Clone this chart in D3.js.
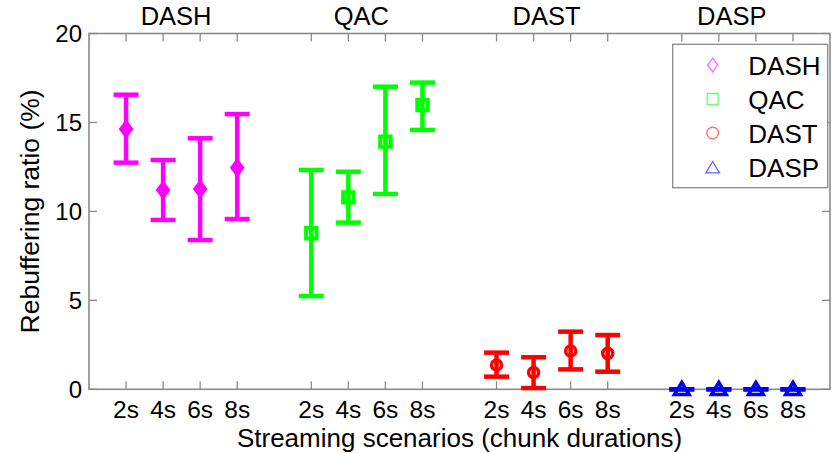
<!DOCTYPE html>
<html><head><meta charset="utf-8">
<script src="https://cdn.jsdelivr.net/npm/d3@7/dist/d3.min.js"></script>
<style>body{margin:0;background:#fff}svg{display:block}text{font-family:"Liberation Sans",Arial,sans-serif;fill:#000}</style>
</head><body>
<svg id="c" width="835" height="453"></svg>
<script>
const groups = ["DASH","QAC","DAST","DASP"];
const categories = ["2s","4s","6s","8s"];
const yTicks = [0,5,10,15,20];
const meanDASH = [14.63, 11.2, 11.26, 12.46];
const lowDASH  = [12.74, 9.52, 8.39, 9.57];
const highDASH = [16.56, 12.89, 14.11, 15.47];
const meanQAC = [8.77, 10.79, 13.92, 15.98];
const lowQAC  = [5.24, 9.37, 10.98, 14.58];
const highQAC = [12.33, 12.23, 17.01, 17.24];
const meanDAST = [1.37, 0.95, 2.15, 2.02];
const lowDAST  = [0.71, 0.07, 1.12, 0.99];
const highDAST = [2.06, 1.80, 3.24, 3.05];
const meanDASP = [0, 0, 0, 0];
const lowDASP  = [0, 0, 0, 0];
const highDASP = [0, 0, 0, 0];
const colors = ["#ff00ff","#00ff00","#ff0000","#0000ff"];
const means = [meanDASH, meanQAC, meanDAST, meanDASP];
const lows = [lowDASH, lowQAC, lowDAST, lowDASP];
const highs = [highDASH, highQAC, highDAST, highDASP];

const svg = d3.select("#c");
const L = 89, R = 830, T = 33.5, B = 389.3;
const x = d3.scaleLinear().domain([0,20]).range([L,R]);
const y = d3.scaleLinear().domain([0,20]).range([B,T]);
const pos = (g,i) => g*5 + i + 1;

const pts = [];
groups.forEach((g,gi)=>categories.forEach((c,ci)=>pts.push({g:gi,c,ci,u:pos(gi,ci),m:means[gi][ci],lo:lows[gi][ci],hi:highs[gi][ci]})));

const axisCol = "#8a8a8a";
// frame
svg.append("rect").attr("x",L).attr("y",T).attr("width",R-L).attr("height",B-T)
  .attr("fill","none").attr("stroke",axisCol).attr("stroke-width",1.6);

// x ticks (bottom & top, inward)
const tl = 8;
pts.forEach(p=>{
  const xx = x(p.u);
  svg.append("line").attr("x1",xx).attr("x2",xx).attr("y1",B).attr("y2",B-tl).attr("stroke",axisCol).attr("stroke-width",1.3);
  svg.append("line").attr("x1",xx).attr("x2",xx).attr("y1",T).attr("y2",T+tl).attr("stroke",axisCol).attr("stroke-width",1.3);
  svg.append("text").attr("x",xx).attr("y",417.5).attr("text-anchor","middle").attr("font-size",24.5).text(p.c);
});
// y ticks left & right
yTicks.forEach(v=>{
  const yy = y(v);
  svg.append("line").attr("x1",L).attr("x2",L+tl).attr("y1",yy).attr("y2",yy).attr("stroke",axisCol).attr("stroke-width",1.3);
  svg.append("line").attr("x1",R).attr("x2",R-tl).attr("y1",yy).attr("y2",yy).attr("stroke",axisCol).attr("stroke-width",1.3);
  svg.append("text").attr("x",L-7).attr("y",yy+8.5).attr("text-anchor","end").attr("font-size",24).text(v);
});

// group labels on top
groups.forEach((g,gi)=>{
  const xc = x((pos(gi,0)+pos(gi,3))/2 - 0.15);
  svg.append("text").attr("x",xc).attr("y",25).attr("text-anchor","middle").attr("font-size",25.5).text(g);
});

// axis titles
svg.append("text").attr("x",(L+R)/2).attr("y",446.5).attr("text-anchor","middle").attr("font-size",26).text("Streaming scenarios (chunk durations)");
svg.append("text").attr("transform",`translate(38.5,${(T+B)/2}) rotate(-90)`).attr("text-anchor","middle").attr("font-size",26.5).text("Rebuffering ratio (%)");

// marker paths
function markerPath(type, s){
  if(type===0) return `M0,${-s}L${s*0.75},0L0,${s}L${-s*0.75},0Z`;
  if(type===1) return `M${-s},${-s}L${s},${-s}L${s},${s}L${-s},${s}Z`;
  if(type===2) return d3.arc()({innerRadius:0,outerRadius:s,startAngle:0,endAngle:2*Math.PI});
  return `M0,${-s}L${s*1.05},${s*0.75}L${-s*1.05},${s*0.75}Z`;
}

// error bars
const cap = 12.5, lw = 4.5;
const eb = svg.append("g");
pts.forEach(p=>{
  const xx = x(p.u), col = colors[p.g];
  eb.append("line").attr("x1",xx).attr("x2",xx).attr("y1",y(p.lo)).attr("y2",y(p.hi)).attr("stroke",col).attr("stroke-width",lw);
  eb.append("line").attr("x1",xx-cap).attr("x2",xx+cap).attr("y1",y(p.lo)).attr("y2",y(p.lo)).attr("stroke",col).attr("stroke-width",lw);
  eb.append("line").attr("x1",xx-cap).attr("x2",xx+cap).attr("y1",y(p.hi)).attr("y2",y(p.hi)).attr("stroke",col).attr("stroke-width",lw);
});
const msz = [6.5, 5.2, 5, 7];
const mlw = [4, 4, 3.5, 3.5];
pts.forEach(p=>{
  svg.append("path").attr("d",markerPath(p.g,msz[p.g]))
    .attr("transform",`translate(${x(p.u)},${y(p.m)})`)
    .attr("fill","none").attr("stroke",colors[p.g]).attr("stroke-width",mlw[p.g]).attr("stroke-linejoin","miter");
});

// legend
const lg = svg.append("g");
lg.append("rect").attr("x",672.7).attr("y",44.3).attr("width",155).attr("height",143.4)
  .attr("fill","#fff").attr("stroke",axisCol).attr("stroke-width",1.3);
const lsz = [6.8, 5.5, 5.8, 6.5];
groups.forEach((g,gi)=>{
  const yy = 65 + gi*34;
  lg.append("path").attr("d",markerPath(gi,lsz[gi])).attr("transform",`translate(712.7,${yy + (gi===3?1:0)})`)
    .attr("fill","none").attr("stroke",colors[gi]).attr("stroke-width",1.3).attr("stroke-opacity",0.6);
  lg.append("text").attr("x",748.3).attr("y",yy+9.5).attr("font-size",26).text(g);
});
</script>
</body></html>
